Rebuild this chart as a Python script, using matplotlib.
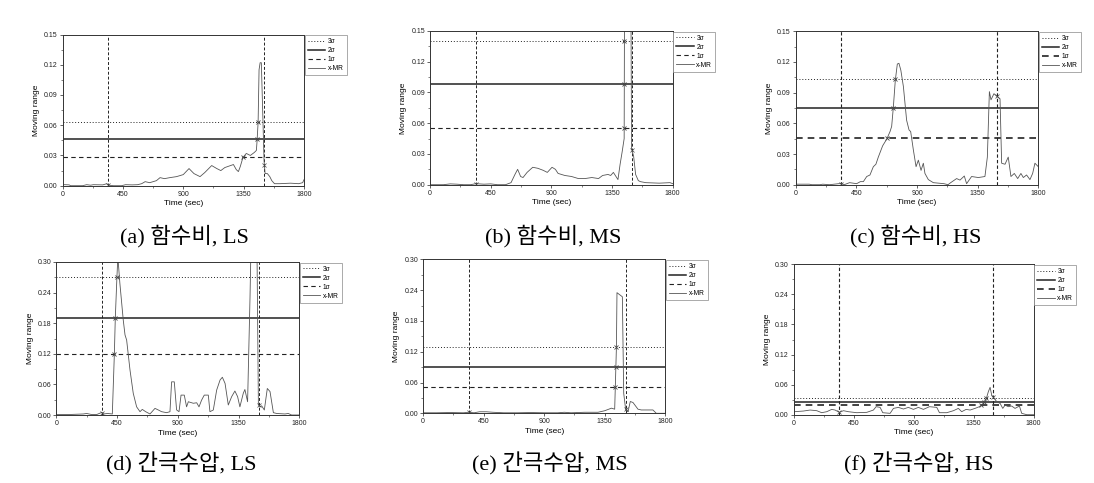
import numpy as np
import matplotlib
matplotlib.use('Agg')
import matplotlib.pyplot as plt
from matplotlib.ticker import MultipleLocator, FormatStrFormatter

plt.rcParams['font.family'] = ['Liberation Sans', 'DejaVu Sans']

# ---------------- data ----------------
captions = ['(a) 함수비, LS', '(b) 함수비, MS', '(c) 함수비, HS',
            '(d) 간극수압, LS', '(e) 간극수압, MS', '(f) 간극수압, HS']
legend_labels = ['3σ', '2σ', '1σ', 'x-MR']
x_ticks = [0, 450, 900, 1350, 1800]
y_max = [0.15, 0.15, 0.15, 0.30, 0.30, 0.30]
y_step = [0.03, 0.03, 0.03, 0.06, 0.06, 0.06]

sigma3 = [0.063, 0.140, 0.103, 0.270, 0.130, 0.033]
sigma2 = [0.046, 0.098, 0.075, 0.190, 0.091, 0.025]
sigma1 = [0.028, 0.055, 0.046, 0.120, 0.051, 0.019]
vline_start = [340, 339, 339, 338, 339, 337]
vline_end = [1505, 1498, 1493, 1501, 1505, 1497]

t_a = [0, 20, 50, 60, 150, 180, 210, 230, 300, 330, 345, 380, 440, 470, 520, 560, 590,
       616, 650, 700, 727, 760, 800, 850, 900, 943, 980, 1025, 1060, 1112, 1150, 1180,
       1210, 1274, 1295, 1311, 1325, 1345, 1370, 1400, 1430, 1445, 1450, 1458, 1465,
       1473, 1482, 1495, 1502, 1510, 1527, 1545, 1560, 1580, 1620, 1700, 1760, 1790, 1800]
mr_a = [0.001, 0.001, 0.0008, 0.0, 0.0, 0.001, 0.0005, 0.001, 0.0008, 0.002, 0.0005, 0.0,
        0.0, 0.001, 0.0008, 0.001, 0.002, 0.004, 0.003, 0.005, 0.008, 0.007, 0.008, 0.009,
        0.011, 0.017, 0.012, 0.009, 0.013, 0.020, 0.017, 0.015, 0.018, 0.021, 0.016, 0.014,
        0.019, 0.028, 0.032, 0.030, 0.033, 0.035, 0.044, 0.063, 0.115, 0.122, 0.122, 0.060,
        0.025, 0.012, 0.012, 0.009, 0.005, 0.002, 0.002, 0.0025, 0.002, 0.003, 0.006]

t_b = [0, 100, 150, 200, 250, 300, 340, 400, 450, 500, 560, 601, 630, 650, 672, 690,
       720, 762, 800, 840, 870, 905, 930, 950, 1000, 1050, 1100, 1150, 1200, 1250, 1280,
       1320, 1340, 1360, 1394, 1410, 1425, 1440, 1446, 1470, 1486, 1495, 1510, 1525,
       1545, 1560, 1600, 1700, 1780, 1800]
mr_b = [0.0, 0.0, 0.0008, 0.0005, 0.0, 0.0, 0.001, 0.0005, 0.0008, 0.0, 0.0, 0.002, 0.010,
        0.015, 0.008, 0.007, 0.012, 0.017, 0.016, 0.014, 0.012, 0.017, 0.015, 0.011,
        0.009, 0.008, 0.006, 0.006, 0.007, 0.006, 0.009, 0.010, 0.009, 0.012, 0.005,
        0.020, 0.032, 0.045, 0.350, 0.350, 0.300, 0.035, 0.028, 0.010, 0.004, 0.003,
        0.002, 0.0015, 0.002, 0.001]

t_c = [0, 100, 120, 180, 200, 250, 320, 340, 360, 400, 452, 480, 502, 527, 551, 576, 595,
       613, 645, 676, 700, 712, 724, 739, 754, 766, 780, 799, 823, 841, 853, 873, 893,
       910, 930, 947, 959, 984, 1021, 1100, 1130, 1150, 1194, 1219, 1251, 1268, 1305,
       1355, 1404, 1422, 1437, 1449, 1471, 1496, 1516, 1528, 1553, 1577, 1597, 1622,
       1647, 1671, 1689, 1713, 1738, 1758, 1775, 1800]
mr_c = [0.0005, 0.0005, 0.0, 0.0, 0.0005, 0.0, 0.001, 0.001, 0.0, 0.002, 0.001, 0.003,
        0.003, 0.008, 0.0095, 0.0176, 0.020, 0.027, 0.038, 0.0447, 0.052, 0.057, 0.075,
        0.102, 0.118, 0.1187, 0.112, 0.096, 0.063, 0.0535, 0.052, 0.034, 0.0176, 0.024,
        0.014, 0.021, 0.011, 0.005, 0.002, 0.001, 0.0, 0.002, 0.006, 0.0045, 0.0085,
        0.001, 0.008, 0.007, 0.008, 0.027, 0.091, 0.083, 0.089, 0.086, 0.084, 0.021,
        0.020, 0.027, 0.008, 0.011, 0.006, 0.011, 0.007, 0.0095, 0.005, 0.011, 0.021,
        0.0176]

t_d = [0, 100, 200, 225, 260, 300, 336, 350, 380, 415, 430, 437, 449, 456, 471, 496,
       509, 521, 546, 570, 595, 620, 637, 662, 694, 731, 756, 780, 817, 842, 854, 874,
       891, 909, 924, 948, 965, 978, 1015, 1040, 1057, 1076, 1096, 1126, 1138, 1163,
       1188, 1213, 1230, 1250, 1274, 1299, 1323, 1343, 1360, 1385, 1397, 1417, 1435,
       1447, 1484, 1497, 1509, 1521, 1541, 1563, 1583, 1608, 1632, 1694, 1718, 1743, 1800]
mr_d = [0.001, 0.001, 0.002, 0.003, 0.001, 0.001, 0.005, 0.002, 0.003, 0.002, 0.119,
        0.190, 0.270, 0.310, 0.258, 0.186, 0.157, 0.147, 0.088, 0.0425, 0.016, 0.0065,
        0.011, 0.0065, 0.002, 0.013, 0.0098, 0.0065, 0.0046, 0.0065, 0.065, 0.065, 0.010,
        0.0065, 0.039, 0.039, 0.016, 0.026, 0.023, 0.024, 0.016, 0.029, 0.039, 0.039,
        0.0065, 0.0098, 0.049, 0.0686, 0.074, 0.062, 0.0196, 0.036, 0.047, 0.036, 0.016,
        0.0425, 0.050, 0.026, 0.232, 0.400, 0.400, 0.020, 0.016, 0.018, 0.0098, 0.052,
        0.046, 0.0046, 0.003, 0.002, 0.003, 0.0, 0.0]

t_e = [0, 100, 200, 300, 340, 380, 420, 470, 520, 600, 700, 800, 900, 1000, 1050, 1100,
       1200, 1300, 1350, 1400, 1424, 1437, 1441, 1461, 1481, 1491, 1506, 1523, 1540,
       1560, 1597, 1622, 1671, 1708, 1733, 1800]
mr_e = [0.001, 0.001, 0.0015, 0.001, 0.002, 0.001, 0.003, 0.003, 0.002, 0.001, 0.001,
        0.0015, 0.001, 0.001, 0.002, 0.001, 0.002, 0.002, 0.005, 0.010, 0.008, 0.130,
        0.235, 0.231, 0.227, 0.039, 0.0065, 0.003, 0.023, 0.021, 0.008, 0.0065, 0.0065,
        0.0065, 0.0, 0.0]

t_f = [5, 73, 123, 173, 210, 248, 285, 310, 343, 373, 410, 473, 548, 598, 618, 648, 668,
       723, 748, 785, 823, 860, 898, 935, 973, 1018, 1073, 1093, 1148, 1198, 1235, 1260,
       1293, 1323, 1360, 1393, 1423, 1443, 1460, 1473, 1485, 1503, 1523, 1548, 1568,
       1585, 1610, 1635, 1660, 1693, 1710, 1748, 1800]
mr_f = [0.006, 0.0073, 0.0093, 0.008, 0.004, 0.006, 0.0106, 0.0093, 0.0047, 0.008,
        0.006, 0.004, 0.0047, 0.0093, 0.016, 0.0146, 0.004, 0.0027, 0.0126, 0.0146,
        0.0113, 0.0146, 0.0106, 0.0146, 0.0106, 0.016, 0.0146, 0.004, 0.004, 0.008,
        0.0126, 0.006, 0.0106, 0.0093, 0.0126, 0.016, 0.0226, 0.031, 0.046, 0.0546,
        0.039, 0.0326, 0.026, 0.0226, 0.0126, 0.019, 0.016, 0.0173, 0.0126, 0.0173,
        0.0027, 0.0, 0.0]

times = [t_a, t_b, t_c, t_d, t_e, t_f]
series = [mr_a, mr_b, mr_c, mr_d, mr_e, mr_f]

# ---------------- layout (pixels: left, top, right, bottom) ----------------
W, H = 1094, 483
boxes = [(62.5, 34.5, 304, 185.7), (430, 31, 672.7, 184.7), (795.7, 31.3, 1038.3, 184.7),
         (56.3, 262, 299.3, 415), (423, 259.3, 665.3, 413.3), (793.7, 264.3, 1033.7, 414.7)]
cap_pos = [(184, 236), (553, 236), (916, 236), (181, 464), (550, 464), (919, 464)]
bold_sigma1 = [False, False, True, False, False, True]

fig = plt.figure(figsize=(W / 100, H / 100), dpi=100)
fig.patch.set_facecolor('white')

line_col = '#222222'
mr_col = '#555555'


def first_crossing(t, y, level):
    for i in range(len(y) - 1):
        if y[i] < level <= y[i + 1]:
            return t[i] + (level - y[i]) / (y[i + 1] - y[i]) * (t[i + 1] - t[i])
    return None


for k in range(6):
    l, tp, r, b = boxes[k]
    ax = fig.add_axes([l / W, 1 - b / H, (r - l) / W, (b - tp) / H])
    t = np.array(times[k], dtype=float)
    y = np.array(series[k], dtype=float)

    h3 = ax.axhline(sigma3[k], color=line_col, lw=0.7, ls=(0, (1, 2)))
    h2 = ax.axhline(sigma2[k], color=line_col, lw=1.1, ls='-')
    h1 = ax.axhline(sigma1[k], color=line_col, lw=1.2 if bold_sigma1[k] else 0.8,
                    ls=(0, (4, 3)))
    for xv in (vline_start[k], vline_end[k]):
        ax.axvline(xv, color=line_col, lw=0.8 if bold_sigma1[k] else 0.7, ls=(0, (3, 2)))
    hm, = ax.plot(t, y, color=mr_col, lw=0.6)

    # markers where x-MR first crosses each sigma line
    for lev in (sigma1[k], sigma2[k], sigma3[k]):
        xc = first_crossing(t, y, lev)
        if xc is not None:
            ax.plot([xc], [lev], marker='x', ms=3.5, mew=0.6, color='#444444')
    # markers at the foot of the vertical lines
    for xv in (vline_start[k], vline_end[k]):
        ax.plot([xv], [np.interp(xv, t, y)], marker='x', ms=2.5, mew=0.5, color='#444444')

    ax.set_xlim(0, 1800)
    ax.set_ylim(0, y_max[k])
    ax.set_xticks(x_ticks)
    ax.xaxis.set_minor_locator(MultipleLocator(225))
    ax.yaxis.set_major_locator(MultipleLocator(y_step[k]))
    ax.yaxis.set_minor_locator(MultipleLocator(y_step[k] / 2))
    ax.yaxis.set_major_formatter(FormatStrFormatter('%.2f'))
    ax.tick_params(which='major', direction='out', length=2.0, width=0.5,
                   labelsize=5, pad=1.5, colors='#222222')
    ax.tick_params(which='minor', direction='out', length=1.2, width=0.4, colors='#222222')
    for s in ax.spines.values():
        s.set_linewidth(0.7)
        s.set_color('#333333')
    ax.set_xlabel('Time (sec)', fontsize=6, labelpad=2)
    ax.set_ylabel('Moving range', fontsize=6, labelpad=3)

    leg = ax.legend([h3, h2, h1, hm], legend_labels, loc='upper left',
                    bbox_to_anchor=(1.0, 1.0), borderaxespad=0.1, fontsize=4.8,
                    handlelength=2.6, handletextpad=0.4, labelspacing=0.3,
                    borderpad=0.45, fancybox=False, framealpha=1, edgecolor='#888888')
    leg.get_frame().set_linewidth(0.5)

    fig.text(cap_pos[k][0] / W, 1 - cap_pos[k][1] / H, captions[k], ha='center',
             va='center', fontsize=16,
             family=['Liberation Serif', 'Noto Sans CJK KR', 'DejaVu Sans'])

fig.savefig('out.png', dpi=100, facecolor='white')
